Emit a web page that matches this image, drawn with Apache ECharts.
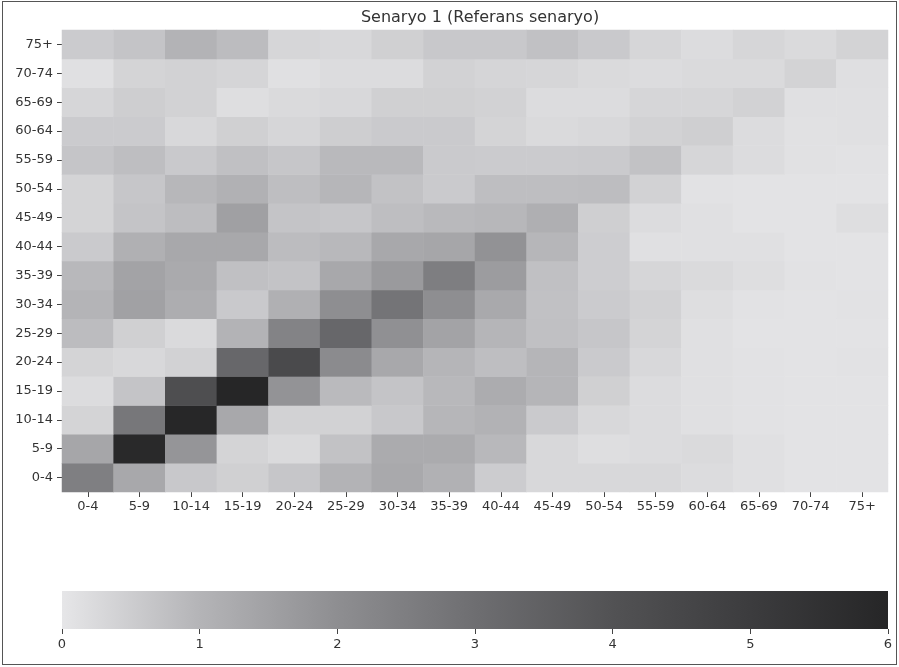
<!DOCTYPE html>
<html>
<head>
<meta charset="utf-8">
<script src="https://cdn.jsdelivr.net/npm/echarts@6/dist/echarts.min.js"></script>
<style>
  body { margin: 0; background: #fff; }
  #chart { position: absolute; left: 0; top: 0; width: 899px; height: 667px; }
  .frame { position: absolute; left: 2px; top: 1px; width: 893px; height: 662px; border: 1px solid #555; pointer-events: none; }
</style>
</head>
<body>
<div id="chart"></div>
<div class="frame"></div>
<script>
// age groups, used for both axes
const ageGroups = ['0-4', '5-9', '10-14', '15-19', '20-24', '25-29', '30-34', '35-39',
  '40-44', '45-49', '50-54', '55-59', '60-64', '65-69', '70-74', '75+']

// one row per y age group, bottom (0-4) to top (75+), columns 0-4 .. 75+
const rows = [
  [2.47, 1.32, 0.60, 0.44, 0.64, 1.03, 1.29, 1.08, 0.52, 0.28, 0.28, 0.28, 0.20, 0.12, 0.06, 0.06], // 0-4
  [1.37, 5.85, 1.82, 0.36, 0.24, 0.72, 1.24, 1.24, 0.92, 0.28, 0.16, 0.20, 0.24, 0.12, 0.06, 0.06], // 5-9
  [0.36, 2.72, 5.95, 1.32, 0.40, 0.40, 0.60, 0.96, 1.05, 0.56, 0.28, 0.20, 0.12, 0.08, 0.06, 0.06], // 10-14
  [0.20, 0.68, 4.18, 6.00, 1.87, 0.88, 0.68, 0.92, 1.21, 0.98, 0.44, 0.20, 0.12, 0.08, 0.06, 0.06], // 15-19
  [0.36, 0.28, 0.40, 3.25, 4.36, 2.10, 1.32, 0.98, 0.80, 0.98, 0.56, 0.28, 0.12, 0.08, 0.06, 0.08], // 20-24
  [0.84, 0.44, 0.24, 1.03, 2.34, 3.25, 1.95, 1.45, 0.98, 0.76, 0.64, 0.36, 0.12, 0.06, 0.06, 0.06], // 25-29
  [1.00, 1.50, 1.18, 0.58, 1.10, 2.00, 2.81, 2.00, 1.29, 0.74, 0.54, 0.40, 0.16, 0.08, 0.06, 0.08], // 30-34
  [0.92, 1.45, 1.26, 0.76, 0.70, 1.32, 1.68, 2.50, 1.63, 0.76, 0.50, 0.32, 0.24, 0.16, 0.08, 0.06], // 35-39
  [0.56, 1.10, 1.32, 1.32, 0.84, 0.92, 1.32, 1.37, 1.90, 0.96, 0.50, 0.12, 0.12, 0.12, 0.06, 0.06], // 40-44
  [0.36, 0.68, 0.82, 1.53, 0.68, 0.64, 0.80, 0.90, 0.94, 1.13, 0.46, 0.20, 0.12, 0.06, 0.06, 0.16], // 45-49
  [0.36, 0.64, 0.94, 1.08, 0.80, 0.96, 0.72, 0.56, 0.80, 0.80, 0.82, 0.40, 0.08, 0.06, 0.06, 0.06], // 50-54
  [0.66, 0.80, 0.58, 0.76, 0.64, 0.90, 0.90, 0.56, 0.54, 0.54, 0.56, 0.72, 0.32, 0.20, 0.10, 0.08], // 55-59
  [0.54, 0.54, 0.28, 0.44, 0.32, 0.48, 0.56, 0.56, 0.36, 0.24, 0.28, 0.40, 0.46, 0.20, 0.10, 0.12], // 60-64
  [0.32, 0.48, 0.40, 0.16, 0.24, 0.28, 0.44, 0.44, 0.40, 0.20, 0.20, 0.32, 0.32, 0.40, 0.12, 0.12], // 65-69
  [0.12, 0.36, 0.40, 0.34, 0.12, 0.20, 0.20, 0.40, 0.34, 0.32, 0.24, 0.20, 0.24, 0.24, 0.38, 0.14], // 70-74
  [0.54, 0.68, 1.03, 0.84, 0.32, 0.28, 0.44, 0.60, 0.60, 0.74, 0.58, 0.32, 0.20, 0.32, 0.24, 0.38]  // 75+
]

const colorTicks = [0, 1, 2, 3, 4, 5, 6]
const palette = ['#e6e6e8', '#b4b4b7', '#8e8e91', '#6e6e71', '#525254', '#3c3c3e', '#262627']

const cells = []
rows.forEach((row, y) => {
  row.forEach((v, x) => cells.push([x, y, v]))
})

const labelStyle = { color: '#333', fontSize: 13, fontFamily: 'DejaVu Sans' }
const tickStyle = { show: true, length: 5, lineStyle: { color: '#444' } }

const myChart = echarts.init(document.getElementById('chart'))
myChart.setOption({
  animation: false,
  title: {
    text: 'Senaryo 1 (Referans senaryo)',
    left: 475,
    textAlign: 'center',
    top: 5,
    textStyle: { color: '#333', fontSize: 16, fontWeight: 'normal', fontFamily: 'DejaVu Sans' }
  },
  grid: [
    { left: 62, right: 11, top: 30, bottom: 175 },
    {
      left: 62, right: 11, top: 591, height: 38,
      show: true,
      borderWidth: 0,
      backgroundColor: {
        type: 'linear', x: 0, y: 0, x2: 1, y2: 0,
        colorStops: palette.map((c, i) => ({ offset: i / (palette.length - 1), color: c }))
      }
    }
  ],
  xAxis: [
    {
      type: 'category',
      data: ageGroups,
      gridIndex: 0,
      axisLine: { show: false },
      axisTick: Object.assign({ alignWithLabel: true }, tickStyle),
      axisLabel: Object.assign({ interval: 0, margin: 8 }, labelStyle),
      splitLine: { show: false }
    },
    {
      type: 'value',
      gridIndex: 1,
      min: colorTicks[0],
      max: colorTicks[colorTicks.length - 1],
      interval: 1,
      axisLine: { show: false },
      axisTick: tickStyle,
      axisLabel: Object.assign({ margin: 9 }, labelStyle),
      splitLine: { show: false }
    }
  ],
  yAxis: [
    {
      type: 'category',
      data: ageGroups,
      gridIndex: 0,
      axisLine: { show: false },
      axisTick: Object.assign({ alignWithLabel: true }, tickStyle),
      axisLabel: Object.assign({ interval: 0, margin: 9 }, labelStyle),
      splitLine: { show: false }
    },
    {
      type: 'value',
      gridIndex: 1,
      show: false
    }
  ],
  visualMap: {
    show: false,
    min: 0,
    max: 6,
    seriesIndex: 0,
    inRange: { color: palette }
  },
  series: [{
    type: 'heatmap',
    xAxisIndex: 0,
    yAxisIndex: 0,
    data: cells,
    itemStyle: { borderWidth: 0 },
    emphasis: { disabled: true }
  }]
})
window.addEventListener('resize', function() {
  myChart.resize()
})
</script>
</body>
</html>
